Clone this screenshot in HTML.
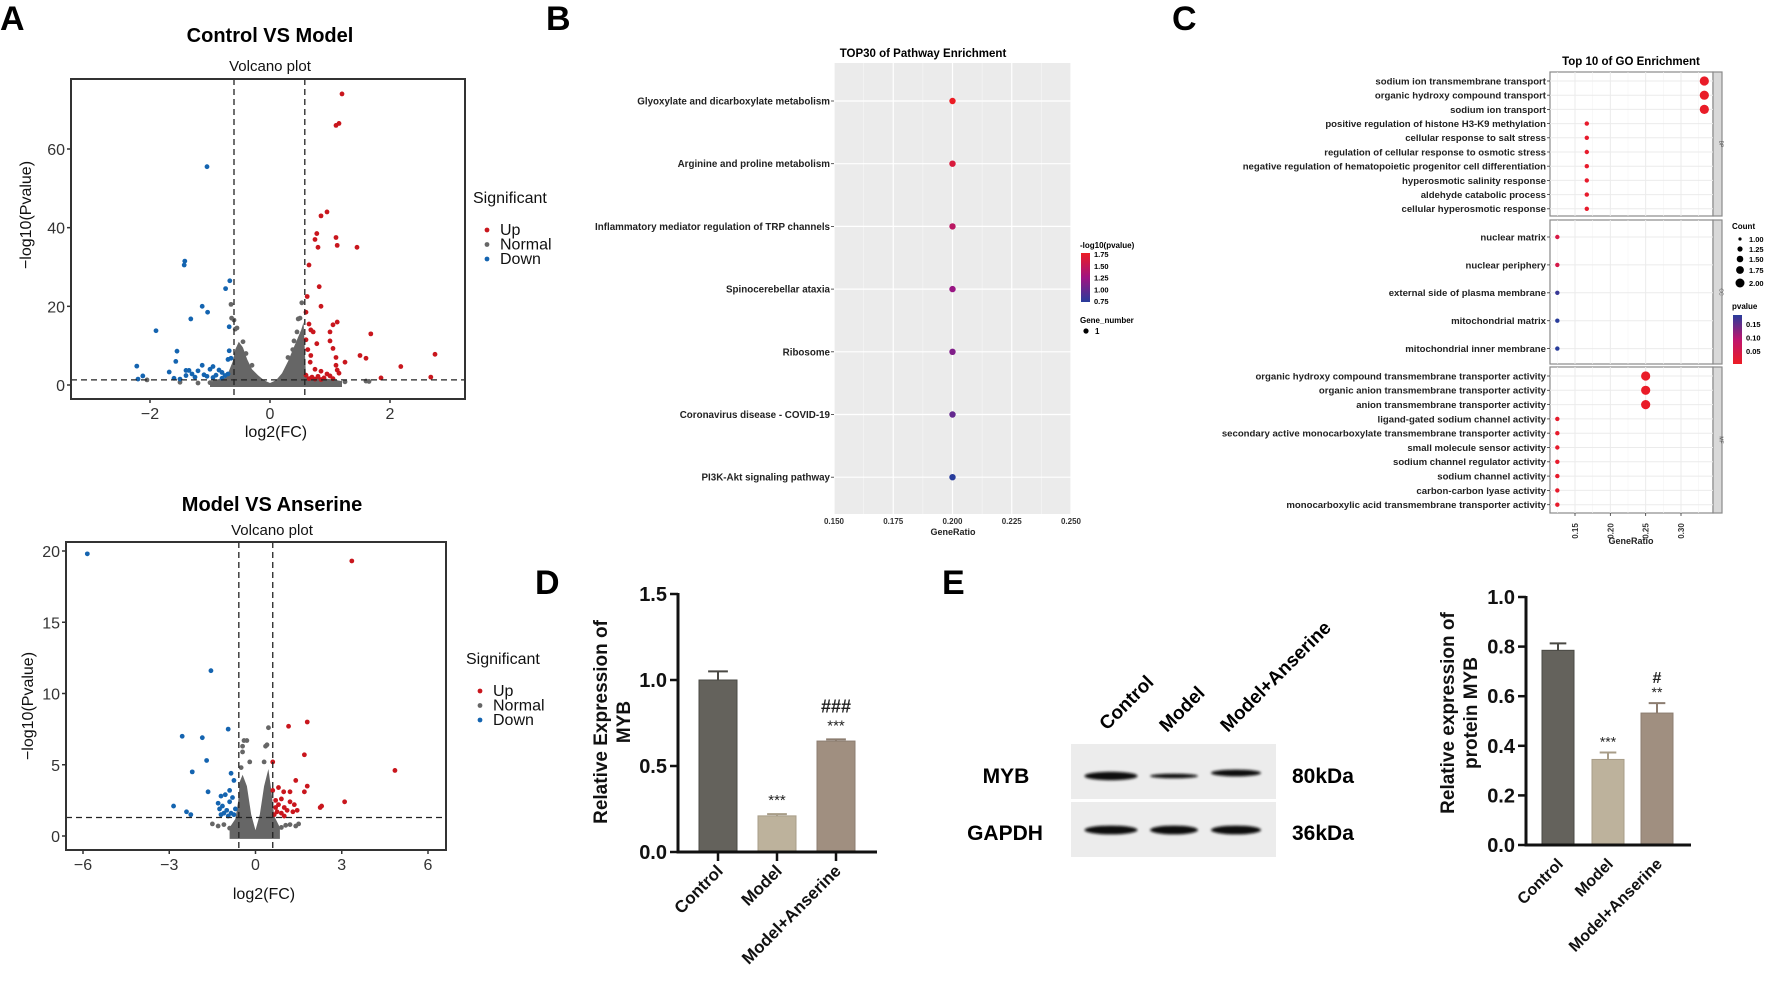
<!DOCTYPE html>
<html><head><meta charset="utf-8">
<style>
html,body{margin:0;padding:0;background:#fff;}
svg{display:block;font-family:"Liberation Sans",Arial,sans-serif;}
</style></head>
<body>
<svg id="fig" xmlns="http://www.w3.org/2000/svg" width="1772" height="984" viewBox="0 0 1772 984">
<rect x="0" y="0" width="1772" height="984" fill="#fff"/>
<g font-weight="bold" font-size="34" fill="#000">
<text x="0" y="30">A</text>
<text x="546" y="30">B</text>
<text x="1172" y="30">C</text>
<text x="535" y="594">D</text>
<text x="942" y="594">E</text>
</g>
<g id="gA1"></g><g id="gA2"></g><g id="gB"></g><g id="gC"></g><g id="gD"></g><g id="gE"></g>
</svg>
<script>
// ---------------- DATA ----------------
// Volcano 1 (Control VS Model)
const v1UpX=[1.2,1.1,1.15,0.95,0.85,0.78,0.75,1.1,1.12,0.8,1.45,0.65,0.82,0.62,0.85,0.6,1.12,1.05,0.65,0.68,0.72,1.0,1.68,0.6,0.78,1.0,0.63,1.05,1.5,0.68,1.1,1.6,0.67,1.25,1.1,2.18,0.75,1.12,1.15,0.85,2.75,2.68,1.85,0.7,0.8,0.9,1.0,0.95,0.6,0.65,0.75,1.05,0.85];
const v1UpY=[74,66,66.5,44,43,38.5,37,37.5,35.5,35,35,30.5,25,22.5,20,18.5,16,15.3,15.5,14,13.5,13.5,13,11.5,10.5,11.2,9,9.3,7.5,7.5,7,6.8,5.8,5.8,5,4.7,4,3.8,3,3.5,7.8,2,1.8,2,2.2,1.8,2.3,2.8,2.5,1.6,1.5,1.6,1.4];
const v1DnX=[-1.05,-1.42,-1.43,-0.67,-0.74,-1.13,-1.04,-1.32,-1.9,-0.68,-1.55,-0.68,-0.65,-0.7,-1.57,-1.13,-0.95,-2.22,-1.4,-1.35,-1.2,-1.0,-0.85,-0.8,-1.68,-2.12,-1.3,-1.1,-0.9,-0.75,-0.7,-1.6,-2.2,-1.25,-1.05,-0.95,-0.8,-1.4,-1.5];
const v1DnY=[55.5,31.5,30.5,26.5,24.5,20,18.5,16.8,13.8,14.8,8.6,8.7,6.8,6.5,6,5,4.7,4.8,3.7,3.7,3.6,4,3.8,3.2,3.3,2.3,2.8,2.6,2.5,2.4,2.8,1.7,1.5,2,2.2,1.9,1.7,2.4,1.5];
const v1NsX=[-2.05,-1.5,-1.2,-1,1.25,1.6,1.65,0.9,-0.65,-0.64,-0.6,-0.58,-0.55,0.53,0.5,0.47,0.45,0.4,-0.45,-0.5,0.38,-0.4,-0.3,0.3,-0.85,1.1];
const v1NsY=[1.3,0.7,0.5,0.6,0.8,1,0.9,0.6,20.5,17,16.5,14.2,14.5,20.9,17,16.8,13.5,11.2,11,9.5,9,8,5,7,0.8,0.7];
const v1CloudX=[-1.0,-0.95,-0.75,-0.7,-0.62,-0.58,-0.52,-0.45,-0.38,-0.3,-0.2,-0.1,0,0.1,0.2,0.3,0.38,0.45,0.52,0.56,0.6,0.8,1.0,1.2,1.2,-1.0];
const v1CloudY=[0.3,1.2,1.8,3,6,9,11,9.5,6.5,4,2.5,1.2,0.5,1.2,3,6,9,11.5,14,16,2,1.8,1.5,1.0,-0.5,-0.5];
// Volcano 2 (Model VS Anserine)
const v2UpX=[3.35,1.8,1.15,1.7,0.6,4.85,1.4,0.8,1.8,0.6,0.98,1.2,1.7,3.1,2.3,2.25,0.9,1.2,1.35,1.45,0.7,0.8,1.0,0.75,0.9,1.1,0.65,1.0,0.7,1.3];
const v2UpY=[19.3,8,7.7,5.7,5.2,4.6,3.9,3.4,3.5,3.2,3.1,3.1,3.1,2.4,2.1,2.0,2.6,2.4,2.2,1.8,2.5,2.2,2.0,1.7,1.6,1.8,1.5,1.4,2.0,1.7];
const v2DnX=[-5.85,-1.55,-0.95,-2.55,-1.85,-1.7,-2.2,-0.85,-0.75,-1.65,-2.85,-2.4,-2.25,-1.2,-1.05,-0.9,-1.3,-1.15,-0.9,-0.8,-1.25,-1.0,-0.85,-0.7,-1.2,-0.95,-0.75,-1.1];
const v2DnY=[19.8,11.6,7.5,7.0,6.9,5.3,4.5,4.4,3.9,3.1,2.1,1.7,1.5,2.8,2.9,3.2,2.3,2.1,2.4,2.7,1.9,1.8,1.6,1.9,1.5,1.4,1.5,1.6];
const v2NsX=[0.45,-0.4,-0.45,-0.3,-0.45,0.35,0.4,-0.2,0.3,-0.5,-1.5,-1.3,-1.1,-0.9,-0.7,0.9,1.2,1.05,1.4,1.5,0.75];
const v2NsY=[7.6,6.7,6.3,6.7,5.9,6.3,6.4,5.2,5.2,4.8,0.85,0.7,0.8,0.55,0.4,0.6,0.8,0.75,0.7,0.85,0.5];
const v2CloudX=[-0.9,-0.7,-0.6,-0.55,-0.45,-0.3,-0.15,0,0.15,0.3,0.45,0.55,0.65,0.85,0.85,-0.9];
const v2CloudY=[0.6,1.2,2.5,3.8,4.3,3.5,1.5,0.4,1.5,3.5,4.7,3.2,1.4,0.6,-0.2,-0.2];
// Panel B
const bPathways=["Glyoxylate and dicarboxylate metabolism","Arginine and proline metabolism","Inflammatory mediator regulation of TRP channels","Spinocerebellar ataxia","Ribosome","Coronavirus disease - COVID-19","PI3K-Akt signaling pathway"];
const bRatio=[0.2,0.2,0.2,0.2,0.2,0.2,0.2];
const bLogP=[1.78,1.62,1.42,1.22,1.12,1.0,0.75];
const bTicks=[0.150,0.175,0.200,0.225,0.250];
const bTickLabels=["0.150","0.175","0.200","0.225","0.250"];
// Panel C
const cBP=["sodium ion transmembrane transport","organic hydroxy compound transport","sodium ion transport","positive regulation of histone H3-K9 methylation","cellular response to salt stress","regulation of cellular response to osmotic stress","negative regulation of hematopoietic progenitor cell differentiation","hyperosmotic salinity response","aldehyde catabolic process","cellular hyperosmotic response"];
const cBPratio=[0.333,0.333,0.333,0.1667,0.1667,0.1667,0.1667,0.1667,0.1667,0.1667];
const cBPcount=[2,2,2,1,1,1,1,1,1,1];
const cBPp=[0.005,0.005,0.005,0.01,0.01,0.01,0.01,0.01,0.01,0.01];
const cCC=["nuclear matrix","nuclear periphery","external side of plasma membrane","mitochondrial matrix","mitochondrial inner membrane"];
const cCCratio=[0.125,0.125,0.125,0.125,0.125];
const cCCcount=[1,1,1,1,1];
const cCCp=[0.04,0.045,0.17,0.18,0.18];
const cMF=["organic hydroxy compound transmembrane transporter activity","organic anion transmembrane transporter activity","anion transmembrane transporter activity","ligand-gated sodium channel activity","secondary active monocarboxylate transmembrane transporter activity","small molecule sensor activity","sodium channel regulator activity","sodium channel activity","carbon-carbon lyase activity","monocarboxylic acid transmembrane transporter activity"];
const cMFratio=[0.25,0.25,0.25,0.125,0.125,0.125,0.125,0.125,0.125,0.125];
const cMFcount=[2,2,2,1,1,1,1,1,1,1];
const cMFp=[0.005,0.005,0.005,0.01,0.01,0.01,0.01,0.01,0.01,0.01];
const cTicks=[0.15,0.20,0.25,0.30];
const cTickLabels=["0.15","0.20","0.25","0.30"];
// Panel D
const dGroups=["Control","Model","Model+Anserine"];
const dValues=[1.0,0.21,0.645];
const dErrors=[0.05,0.01,0.01];
const dTicks=[0,0.5,1.0,1.5];
const dTickLabels=["0.0","0.5","1.0","1.5"];
const dSig=["","***","***"];
const dSig2=["","","###"];
// Panel E
const eGroups=["Control","Model","Model+Anserine"];
const eValues=[0.785,0.345,0.532];
const eErrors=[0.028,0.028,0.04];
const eTicks=[0,0.2,0.4,0.6,0.8,1.0];
const eTickLabels=["0.0","0.2","0.4","0.6","0.8","1.0"];
const eSig=["","***","**"];
const eSig2=["","","#"];
const eMybBand=[1.0,0.55,0.8];
const eGapdhBand=[1.0,1.0,1.0];

// ---------------- HELPERS ----------------
const NS="http://www.w3.org/2000/svg";
function mk(parent,tag,attrs,txt){const e=document.createElementNS(NS,tag);for(const k in attrs)e.setAttribute(k,attrs[k]);if(txt!==undefined)e.textContent=txt;parent.appendChild(e);return e;}
function lin(d0,d1,r0,r1){return v=>r0+(v-d0)/(d1-d0)*(r1-r0);}
const RED="#c9161d",BLUE="#1464b0",GREY="#666666";

// ---------------- VOLCANO ----------------
function volcano(g,o){
  const X=lin(o.xd[0],o.xd[1],o.x0,o.x1), Y=lin(o.yd[0],o.yd[1],o.y1,o.y0);
  let e;
  e=mk(g,"text",{x:(o.x0+o.x1)/2,y:o.titleY,"text-anchor":"middle","font-size":20,"font-weight":"bold"},o.title);
  
  
  e=mk(g,"text",{x:(o.x0+o.x1)/2,y:o.subY,"text-anchor":"middle","font-size":15,fill:"#111"},"Volcano plot");
  
  
  // cloud
  let pts=o.cx.map((v,i)=>X(v).toFixed(1)+","+Y(o.cy[i]).toFixed(1)).join(" ");
  e=mk(g,"polygon",{points:pts,fill:GREY});
  
  
  const series=[[o.nx,o.ny,GREY,'normal-point'],[o.ux,o.uy,RED,'up-point'],[o.dx,o.dy,BLUE,'down-point']];
  series.forEach(s=>{s[0].forEach((v,i)=>{const c=mk(g,"circle",{cx:X(v),cy:Y(s[1][i]),r:2.4,fill:s[2]});
    
    });});
  // thresholds
  [o.vl,o.vr].forEach(v=>{const l=mk(g,"line",{x1:X(v),x2:X(v),y1:o.y0,y2:o.y1,stroke:"#222","stroke-width":1.3,"stroke-dasharray":"6,4"});
    
    });
  e=mk(g,"line",{x1:o.x0,x2:o.x1,y1:Y(1.3),y2:Y(1.3),stroke:"#222","stroke-width":1.3,"stroke-dasharray":"6,4"});
  
  
  e=mk(g,"rect",{x:o.x0,y:o.y0,width:o.x1-o.x0,height:o.y1-o.y0,fill:"none",stroke:"#333","stroke-width":2});
  
  
  o.yt.forEach(v=>{mk(g,"line",{x1:o.x0-4,x2:o.x0,y1:Y(v),y2:Y(v),stroke:"#333","stroke-width":1.5});
    const t=mk(g,"text",{x:o.x0-7,y:Y(v)+6,"text-anchor":"end","font-size":16,fill:"#333"},String(v));
    
    });
  o.xt.forEach(v=>{mk(g,"line",{x1:X(v),x2:X(v),y1:o.y1,y2:o.y1+4,stroke:"#333","stroke-width":1.5});
    const t=mk(g,"text",{x:X(v),y:o.y1+20,"text-anchor":"middle","font-size":16,fill:"#333"},v<0?"\u2212"+(-v):String(v));
    
    });
  e=mk(g,"text",{x:(o.x0+o.x1)/2,y:o.xlabY,"text-anchor":"middle","font-size":16,fill:"#111"},"log2(FC)");
  
  
  e=mk(g,"text",{x:0,y:0,"text-anchor":"middle","font-size":16,fill:"#111",transform:`translate(${o.ylabX},${(o.y0+o.y1)/2}) rotate(-90)`},"\u2212log10(Pvalue)");
  
  
  e=mk(g,"text",{x:o.legX,y:o.legY,"font-size":16,fill:"#111"},"Significant");
  
  
  [["Up",RED],["Normal",GREY],["Down",BLUE]].forEach((s,i)=>{const yy=o.legY+31+i*14.5;
    const c=mk(g,"circle",{cx:o.legX+14,cy:yy,r:2.4,fill:s[1]});
    
    
    const t=mk(g,"text",{x:o.legX+27,y:yy+6,"font-size":16,fill:"#111"},s[0]);
    
    });
}
volcano(document.getElementById("gA1"),{title:"Control VS Model",titleY:42,subY:71,x0:71,x1:465,y0:79,y1:400,xd:[0,2],yd:[0,60],
  xdmap:null,ux:v1UpX,uy:v1UpY,dx:v1DnX,dy:v1DnY,nx:v1NsX,ny:v1NsY,cx:v1CloudX,cy:v1CloudY,vl:-0.6,vr:0.58,
  yt:[0,20,40,60],xt:[-2,0,2],xlabY:438,ylabX:32,legX:473,legY:203});
// fix scale: volcano uses explicit pixel anchors via xd/yd mapping below
</script>
<script>
// Re-render volcanoes with correct axis anchors (replace helper mapping)
(function(){
  const g1=document.getElementById("gA1"); while(g1.firstChild) g1.removeChild(g1.firstChild);
})();
function volcano2(g,o){
  // o.xa:[v0,px0,v1,px1], o.ya:[v0,py0,v1,py1]
  const X=lin(o.xa[0],o.xa[2],o.xa[1],o.xa[3]), Y=lin(o.ya[0],o.ya[2],o.ya[1],o.ya[3]);
  const oo=Object.assign({},o);
  oo.xd=[o.xa[0],o.xa[2]]; 
  // emulate by overriding lin via wrapper
  return {X,Y};
}
function volcanoFull(g,o){
  const X=lin(o.xa[0],o.xa[2],o.xa[1],o.xa[3]), Y=lin(o.ya[0],o.ya[2],o.ya[1],o.ya[3]);
  let e;
  e=mk(g,"text",{x:o.tx,y:o.titleY,"text-anchor":"middle","font-size":20,"font-weight":"bold"},o.title);
  
  
  e=mk(g,"text",{x:o.tx,y:o.subY,"text-anchor":"middle","font-size":15,fill:"#111"},"Volcano plot");
  
  
  const cp=mk(g,"clipPath",{id:o.id+"clip"});
  mk(cp,"rect",{x:o.x0,y:o.y0,width:o.x1-o.x0,height:o.y1-o.y0});
  const pg=mk(g,"g",{"clip-path":`url(#${o.id}clip)`});
  let pts=o.cx.map((v,i)=>X(v).toFixed(1)+","+Y(o.cy[i]).toFixed(1)).join(" ");
  e=mk(pg,"polygon",{points:pts,fill:GREY});
  
  
  [[o.nx,o.ny,GREY,'normal-point'],[o.ux,o.uy,RED,'up-point'],[o.dx,o.dy,BLUE,'down-point']].forEach(s=>{
    s[0].forEach((v,i)=>{const c=mk(pg,"circle",{cx:X(v),cy:Y(s[1][i]),r:2.4,fill:s[2]});
      
      });});
  [o.vl,o.vr].forEach(v=>{const l=mk(g,"line",{x1:X(v),x2:X(v),y1:o.y0,y2:o.y1,stroke:"#222","stroke-width":1.3,"stroke-dasharray":"6,4"});
    
    });
  e=mk(g,"line",{x1:o.x0,x2:o.x1,y1:Y(1.3),y2:Y(1.3),stroke:"#222","stroke-width":1.3,"stroke-dasharray":"6,4"});
  
  
  e=mk(g,"rect",{x:o.x0,y:o.y0,width:o.x1-o.x0,height:o.y1-o.y0,fill:"none",stroke:"#333","stroke-width":2});
  
  
  o.yt.forEach(v=>{mk(g,"line",{x1:o.x0-4,x2:o.x0,y1:Y(v),y2:Y(v),stroke:"#333","stroke-width":1.5});
    const t=mk(g,"text",{x:o.x0-6,y:Y(v)+6,"text-anchor":"end","font-size":16,fill:"#333"},String(v));
    
    });
  o.xt.forEach(v=>{mk(g,"line",{x1:X(v),x2:X(v),y1:o.y1,y2:o.y1+4,stroke:"#333","stroke-width":1.5});
    const t=mk(g,"text",{x:X(v),y:o.y1+20,"text-anchor":"middle","font-size":16,fill:"#333"},v<0?"\u2212"+(-v):String(v));
    
    });
  e=mk(g,"text",{x:o.xlabX,y:o.xlabY,"text-anchor":"middle","font-size":16,fill:"#111"},"log2(FC)");
  
  
  e=mk(g,"text",{x:0,y:0,"text-anchor":"middle","font-size":16,fill:"#111",transform:`translate(${o.ylabX},${o.ylabY}) rotate(-90)`},"\u2212log10(Pvalue)");
  
  
  e=mk(g,"text",{x:o.legX,y:o.legY,"font-size":16,fill:"#111"},"Significant");
  
  
  [["Up",RED],["Normal",GREY],["Down",BLUE]].forEach((s,i)=>{const yy=o.legY+32+i*14.5;
    const c=mk(g,"circle",{cx:o.legX+14,cy:yy-5,r:2.4,fill:s[1]});
    
    
    const t=mk(g,"text",{x:o.legX+27,y:yy,"font-size":16,fill:"#111"},s[0]);
    
    });
}
volcanoFull(document.getElementById("gA1"),{id:"v1",title:"Control VS Model",tx:270,titleY:42,subY:71,x0:71,x1:465,y0:79,y1:399,
  xa:[0,270,2,390],ya:[0,385,60,149],ux:v1UpX,uy:v1UpY,dx:v1DnX,dy:v1DnY,nx:v1NsX,ny:v1NsY,cx:v1CloudX,cy:v1CloudY,
  vl:-0.6,vr:0.58,yt:[0,20,40,60],xt:[-2,0,2],xlabX:276,xlabY:437,ylabX:31,ylabY:215,legX:473,legY:203});
volcanoFull(document.getElementById("gA2"),{id:"v2",title:"Model VS Anserine",tx:272,titleY:511,subY:535,x0:66,x1:446,y0:542,y1:850,
  xa:[0,255.5,6,428],ya:[0,836,20,551],ux:v2UpX,uy:v2UpY,dx:v2DnX,dy:v2DnY,nx:v2NsX,ny:v2NsY,cx:v2CloudX,cy:v2CloudY,
  vl:-0.58,vr:0.6,yt:[0,5,10,15,20],xt:[-6,-3,0,3,6],xlabX:264,xlabY:899,ylabX:33,ylabY:706,legX:466,legY:664});

// ---------------- PANEL B ----------------
function colB(v){ // 0.75 blue -> 1.75 red
  const t=Math.max(0,Math.min(1,(v-0.75)/1.0));
  const a=[40,60,155],m=[160,20,130],b=[236,28,36];
  const c=t<0.5?a.map((x,i)=>x+(m[i]-x)*t*2):m.map((x,i)=>x+(b[i]-x)*(t-0.5)*2);
  return `rgb(${c.map(Math.round).join(",")})`;
}
(function(){
  const g=document.getElementById("gB");
  const x0=834,x1=1071,y0=63,y1=514;
  const X=lin(0.15,0.25,x0,x1);
  const rowY=i=>101+i*62.7;
  let e=mk(g,"rect",{x:x0,y:y0,width:x1-x0,height:y1-y0,fill:"#ebebeb"});
  
  
  bTicks.forEach((v,i)=>{ if(i<bTicks.length-1) mk(g,"line",{x1:X(v+0.0125),x2:X(v+0.0125),y1:y0,y2:y1,stroke:"#f7f7f7","stroke-width":0.6});
    mk(g,"line",{x1:X(v),x2:X(v),y1:y0,y2:y1,stroke:"#fff","stroke-width":1.2});
    const t=mk(g,"text",{x:X(v),y:524,"text-anchor":"middle","font-size":8,"font-weight":"bold",fill:"#333"},bTickLabels[i]);
    
    });
  bPathways.forEach((p,i)=>{mk(g,"line",{x1:x0,x2:x1,y1:rowY(i),y2:rowY(i),stroke:"#fff","stroke-width":1.2});
    mk(g,"line",{x1:x0-3,x2:x0,y1:rowY(i),y2:rowY(i),stroke:"#333","stroke-width":0.8});
    const t=mk(g,"text",{x:x0-4,y:rowY(i)+3.5,"text-anchor":"end","font-size":9.8,"font-weight":"bold",fill:"#222"},p);
    
    
    const c=mk(g,"circle",{cx:X(bRatio[i]),cy:rowY(i),r:3.2,fill:colB(bLogP[i])});
    
    });
  e=mk(g,"text",{x:923,y:57,"text-anchor":"middle","font-size":11.5,"font-weight":"bold"},"TOP30 of Pathway Enrichment");
  
  
  e=mk(g,"text",{x:953,y:535,"text-anchor":"middle","font-size":9,"font-weight":"bold",fill:"#222"},"GeneRatio");
  
  
  // legend
  const defs=mk(g,"defs",{});
  const lg=mk(defs,"linearGradient",{id:"gradB",x1:0,y1:1,x2:0,y2:0});
  mk(lg,"stop",{offset:"0",  "stop-color":colB(0.75)});
  mk(lg,"stop",{offset:"0.5","stop-color":colB(1.25)});
  mk(lg,"stop",{offset:"1",  "stop-color":colB(1.75)});
  e=mk(g,"text",{x:1080,y:248,"font-size":8,"font-weight":"bold"},"-log10(pvalue)");
  
  
  e=mk(g,"rect",{x:1081,y:253,width:9,height:49,fill:"url(#gradB)"});
  
  
  ["1.75","1.50","1.25","1.00","0.75"].forEach((s,i)=>{const t=mk(g,"text",{x:1094,y:257+i*11.8,"font-size":7.5,"font-weight":"bold"},s);
    
    });
  e=mk(g,"text",{x:1080,y:323,"font-size":8,"font-weight":"bold"},"Gene_number");
  
  
  e=mk(g,"circle",{cx:1086,cy:331,r:2.6,fill:"#000"});
  
  
  e=mk(g,"text",{x:1095,y:334,"font-size":8,"font-weight":"bold"},"1");
  
  
})();

// ---------------- PANEL C ----------------
function colC(p){ // 0 red -> 0.18 blue
  const t=Math.max(0,Math.min(1,p/0.18));
  const a=[236,28,36],m=[190,20,110],b=[40,60,155];
  const c=t<0.5?a.map((x,i)=>x+(m[i]-x)*t*2):m.map((x,i)=>x+(b[i]-x)*(t-0.5)*2);
  return `rgb(${c.map(Math.round).join(",")})`;
}
(function(){
  const g=document.getElementById("gC");
  const x0=1550,x1=1713,sx1=1722;
  const X=lin(0.15,0.30,1575,1681);
  const panels=[{lab:cBP,r:cBPratio,n:cBPcount,p:cBPp,y0:72,y1:216,first:81,step:14.2,strip:"BP"},
                {lab:cCC,r:cCCratio,n:cCCcount,p:cCCp,y0:220,y1:364,first:237,step:27.9,strip:"CC"},
                {lab:cMF,r:cMFratio,n:cMFcount,p:cMFp,y0:367,y1:513,first:376,step:14.3,strip:"MF"}];
  panels.forEach(P=>{
    let e=mk(g,"rect",{x:x0,y:P.y0,width:x1-x0,height:P.y1-P.y0,fill:"#fff",stroke:"#8a8a8a","stroke-width":1.2});
    
    
    [0.125,0.175,0.225,0.275,0.325].forEach(v=>mk(g,"line",{x1:X(v),x2:X(v),y1:P.y0,y2:P.y1,stroke:"#f4f4f4","stroke-width":0.6}));
    cTicks.forEach(v=>mk(g,"line",{x1:X(v),x2:X(v),y1:P.y0,y2:P.y1,stroke:"#ebebeb","stroke-width":1}));
    e=mk(g,"rect",{x:x1,y:P.y0,width:sx1-x1,height:P.y1-P.y0,fill:"#d9d9d9",stroke:"#8a8a8a","stroke-width":1.2});
    
    
    e=mk(g,"text",{x:0,y:0,"font-size":5,"text-anchor":"middle",fill:"#555",transform:`translate(${(x1+sx1)/2+2},${(P.y0+P.y1)/2}) rotate(90)`},P.strip);
    
    
    P.lab.forEach((s,i)=>{const yy=P.first+i*P.step;
      mk(g,"line",{x1:x0,x2:x1,y1:yy,y2:yy,stroke:"#ebebeb","stroke-width":1});
      mk(g,"line",{x1:x0-3,x2:x0,y1:yy,y2:yy,stroke:"#333","stroke-width":0.8});
      const t=mk(g,"text",{x:x0-4,y:yy+3.4,"text-anchor":"end","font-size":9.6,"font-weight":"bold",fill:"#222"},s);
      
      
      const c=mk(g,"circle",{cx:X(P.r[i]),cy:yy,r:P.n[i]>1?4.6:2.2,fill:colC(P.p[i])});
      
      });
  });
  cTicks.forEach((v,i)=>{mk(g,"line",{x1:X(v),x2:X(v),y1:513,y2:516,stroke:"#333","stroke-width":0.8});
    const t=mk(g,"text",{x:0,y:0,"font-size":8,"font-weight":"bold","text-anchor":"middle",fill:"#333",transform:`translate(${X(v)+3},${531}) rotate(-90)`},cTickLabels[i]);
    
    });
  let e=mk(g,"text",{x:1631,y:544,"text-anchor":"middle","font-size":9,"font-weight":"bold",fill:"#222"},"GeneRatio");
  
  
  e=mk(g,"text",{x:1631,y:65,"text-anchor":"middle","font-size":11.5,"font-weight":"bold"},"Top 10 of GO Enrichment");
  
  
  // legends
  e=mk(g,"text",{x:1732,y:229,"font-size":8,"font-weight":"bold"},"Count");
  
  
  [["1.00",1.6],["1.25",2.6],["1.50",3.3],["1.75",3.9],["2.00",4.5]].forEach((s,i)=>{const yy=[239,249,259,270,283][i];
    const c=mk(g,"circle",{cx:1740,cy:yy,r:s[1],fill:"#000"});
    
    
    const t=mk(g,"text",{x:1749,y:yy+3,"font-size":7.5,"font-weight":"bold"},s[0]);
    
    });
  const defs=mk(g,"defs",{});
  const lg=mk(defs,"linearGradient",{id:"gradC",x1:0,y1:1,x2:0,y2:0});
  mk(lg,"stop",{offset:"0","stop-color":colC(0)});
  mk(lg,"stop",{offset:"0.5","stop-color":colC(0.09)});
  mk(lg,"stop",{offset:"1","stop-color":colC(0.18)});
  e=mk(g,"text",{x:1732,y:309,"font-size":8,"font-weight":"bold"},"pvalue");
  
  
  e=mk(g,"rect",{x:1733,y:315,width:9,height:49,fill:"url(#gradC)"});
  
  
  ["0.15","0.10","0.05"].forEach((s,i)=>{const t=mk(g,"text",{x:1746,y:327+i*13.5,"font-size":7.5,"font-weight":"bold"},s);
    
    });
})();

// ---------------- BAR CHARTS ----------------
function barChart(g,o){
  const Y=lin(0,o.ymax,o.y0,o.ytop);
  let e;
  o.vals.forEach((v,i)=>{const cx=o.cx[i];
    const r=mk(g,"rect",{x:cx-o.bw/2,y:Y(v),width:o.bw,height:o.y0-Y(v),fill:o.colors[i],stroke:o.edge[i],"stroke-width":1});
    
    
    const et=Y(v+o.errs[i]);
    const l=mk(g,"path",{d:`M${cx},${Y(v)} V${et} M${cx-o.bw*0.26},${et} H${cx+o.bw*0.26}`,stroke:o.edge[i],"stroke-width":2,fill:"none"});
    
    
    if(o.sig[i]){const t=mk(g,"text",{x:cx,y:et-o.sigGap,"text-anchor":"middle","font-size":o.sigFs,fill:"#222"},o.sig[i]);
      
      }
    if(o.sig2[i]){const t=mk(g,"text",{x:cx,y:et-o.sig2Gap,"text-anchor":"middle","font-size":o.sig2Fs,"font-weight":"bold",fill:"#222"},o.sig2[i]);
      
      }
    if(o.xtick) mk(g,"line",{x1:cx,x2:cx,y1:o.y0,y2:o.y0+9,stroke:"#111","stroke-width":2.5});
    const t=mk(g,"text",{x:0,y:0,"text-anchor":"end","font-size":o.catFs,"font-weight":"bold",fill:"#111",transform:`translate(${cx+o.catDx},${o.y0+o.catDy}) rotate(-45)`},o.groups[i]);
    
    });
  e=mk(g,"line",{x1:o.x0,x2:o.x0,y1:o.ytop-1,y2:o.y0+1.5,stroke:"#111","stroke-width":3});
  
  
  e=mk(g,"line",{x1:o.x0-1.5,x2:o.xend,y1:o.y0,y2:o.y0,stroke:"#111","stroke-width":3});
  
  
  o.ticks.forEach((v,i)=>{mk(g,"line",{x1:o.x0-8,x2:o.x0,y1:Y(v),y2:Y(v),stroke:"#111","stroke-width":2.5});
    const t=mk(g,"text",{x:o.x0-11,y:Y(v)+7,"text-anchor":"end","font-size":o.tickFs,"font-weight":"bold",fill:"#111","font-family":o.tickFont},o.tickLabels[i]);
    
    });
  o.ylab.forEach((s,i)=>{const t=mk(g,"text",{x:0,y:0,"text-anchor":"middle","font-size":19,"font-weight":"bold",fill:"#111",transform:`translate(${o.ylabX[i]},${o.ylabY}) rotate(-90)`},s);
    
    });
}
const COLS=["#64625c","#bdb29c","#a08f80"], EDGE=["#4a4944","#a89d88","#8c7d70"];
barChart(document.getElementById("gD"),{groups:dGroups,vals:dValues,errs:dErrors,sig:dSig,sig2:dSig2,ticks:dTicks,tickLabels:dTickLabels,
  ymax:1.5,y0:852,ytop:594,x0:678,xend:877,cx:[718,777,836],bw:38,colors:COLS,edge:EDGE,sigGap:9,sigFs:15,sig2Gap:27,sig2Fs:18,
  xtick:true,catFs:17,catDx:6,catDy:20,tickFs:20,tickFont:"Liberation Sans",ylab:["Relative Expression of","MYB"],ylabX:[607,630],ylabY:722});
barChart(document.getElementById("gE"),{groups:eGroups,vals:eValues,errs:eErrors,sig:eSig,sig2:eSig2,ticks:eTicks,tickLabels:eTickLabels,
  ymax:1.0,y0:845,ytop:597,x0:1526,xend:1691,cx:[1558,1608,1657],bw:32,colors:COLS,edge:EDGE,sigGap:6,sigFs:14,sig2Gap:20,sig2Fs:16,
  xtick:false,catFs:16,catDx:6,catDy:20,tickFs:20,tickFont:"Liberation Sans Narrow, Liberation Sans",ylab:["Relative expression of","protein MYB"],ylabX:[1454,1477],ylabY:713});

// ---------------- WESTERN BLOT ----------------
(function(){
  const g=document.getElementById("gE");
  const lanes=[1111,1174,1236], widths=[53,48,50];
  const defs=mk(g,"defs",{});
  const f=mk(defs,"filter",{id:"blur1",x:"-20%",y:"-100%",width:"140%",height:"300%"});
  mk(f,"feGaussianBlur",{stdDeviation:"1.3"});
  [[744,799,776,eMybBand,"myb-blot-strip",4.2],[802,857,830,eGapdhBand,"gapdh-blot-strip",4.4]].forEach(S=>{
    let e=mk(g,"rect",{x:1071,y:S[0],width:205,height:S[1]-S[0],fill:"#ececec"});
    
    
    lanes.forEach((cx,i)=>{const b=mk(g,"ellipse",{cx:cx,cy:S[2]-(i===2&&S[4]==="myb-blot-strip"?3:0),rx:widths[i]/2,ry:S[5]*S[3][i],fill:"#111",filter:"url(#blur1)"});
      
      });
  });
  [["MYB",1006,783],["GAPDH",1005,840]].forEach(s=>{const t=mk(g,"text",{x:s[1],y:s[2],"text-anchor":"middle","font-size":21,"font-weight":"bold"},s[0]);
    
    });
  [["80kDa",783],["36kDa",840]].forEach(s=>{const t=mk(g,"text",{x:1292,y:s[1],"font-size":21,"font-weight":"bold","font-family":"Liberation Sans Narrow, Liberation Sans"},s[0]);
    
    });
  [["Control",1107,731],["Model",1167,733],["Model+Anserine",1228,733]].forEach(s=>{const t=mk(g,"text",{x:0,y:0,"font-size":19,"font-weight":"bold",transform:`translate(${s[1]},${s[2]}) rotate(-45)`},s[0]);
    
    });
})();
</script>
</body></html>
